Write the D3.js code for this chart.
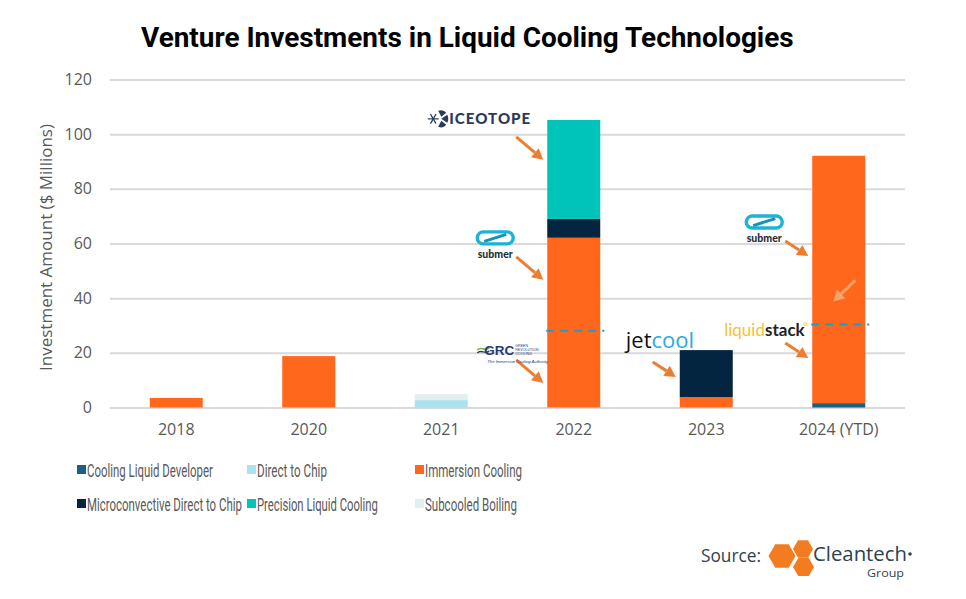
<!DOCTYPE html>
<html>
<head>
<meta charset="utf-8">
<script src="https://cdn.jsdelivr.net/npm/d3@7"></script>
<style>
  html, body { margin: 0; padding: 0; background: #fff; }
  svg { display: block; }
</style>
</head>
<body>
<svg id="chart" width="966" height="599"></svg>
<script>
// ---------------- DATA ----------------
const categories = ["2018", "2020", "2021", "2022", "2023", "2024 (YTD)"];
const seriesNames = ["Cooling Liquid Developer", "Direct to Chip", "Immersion Cooling",
  "Microconvective Direct to Chip", "Precision Liquid Cooling", "Subcooled Boiling"];
const coolingLiquidDeveloper = [0, 0, 0, 0, 0, 1.6];
const directToChip          = [0, 0, 2.7, 0, 0, 0];
const immersionCooling      = [3.5, 18.8, 0, 62.1, 3.8, 90.5];
const microconvective       = [0, 0, 0, 6.9, 17.2, 0];
const precisionLiquid       = [0, 0, 0, 36.2, 0, 0];
const subcooledBoiling      = [0, 0, 2.2, 0, 0, 0];
const yTicks = [0, 20, 40, 60, 80, 100, 120];
const seriesColors = ["#1b5f86", "#a9e3f0", "#ff671d", "#04253f", "#00c4b9", "#e3eef1"];
// annotation markers (value where arrow points) per category
const arrowNotes = [
  {cat: "2022", value: 90.6, logo: "iceotope"},
  {cat: "2022", value: 46.7, logo: "submer"},
  {cat: "2022", value: 9.0,  logo: "grc"},
  {cat: "2023", value: 11.2, logo: "jetcool"},
  {cat: "2024 (YTD)", value: 55.4, logo: "submer"},
  {cat: "2024 (YTD)", value: 18.1, logo: "liquidstack"}
];
const dashedMarks = [{cat: "2022", value: 28.1}, {cat: "2024 (YTD)", value: 30.4}];

// ---------------- CHART ----------------
const svg = d3.select("#chart");
const W = 966, H = 599;
const margin = {left: 110, right: 61, top: 79.5, bottom: 191.5};
const x = d3.scaleBand().domain(categories).range([margin.left, W - margin.right])
  .paddingInner(0.6).paddingOuter(0.3);
const y = d3.scaleLinear().domain([0, 120]).range([H - margin.bottom, margin.top]);

const rows = categories.map((c, i) => ({
  cat: c,
  "Cooling Liquid Developer": coolingLiquidDeveloper[i],
  "Direct to Chip": directToChip[i],
  "Immersion Cooling": immersionCooling[i],
  "Microconvective Direct to Chip": microconvective[i],
  "Precision Liquid Cooling": precisionLiquid[i],
  "Subcooled Boiling": subcooledBoiling[i]
}));
const stack = d3.stack().keys(seriesNames)(rows);
const color = d3.scaleOrdinal().domain(seriesNames).range(seriesColors);

// helper: place text and squeeze horizontally to a target width
function fitText(sel, tx, ty, width) {
  const w = sel.node().getComputedTextLength();
  const k = width / w;
  sel.attr("x", 0).attr("y", 0).attr("transform", `translate(${tx},${ty}) scale(${k},1)`);
  return sel;
}

// gridlines
const yAxis = d3.axisLeft(y).tickValues(yTicks).tickSize(-(W - margin.left - margin.right)).tickPadding(18);
const gy = svg.append("g").attr("transform", `translate(${margin.left},0)`).call(yAxis);
gy.select(".domain").remove();
gy.selectAll(".tick line").attr("stroke", "#d9d9d9").attr("stroke-width", 2);
gy.selectAll(".tick text").attr("fill", "#595959").attr("font-size", 16)
  .attr("font-family", "'Open Sans', 'Liberation Sans', sans-serif");

// bars
svg.append("g").selectAll("g").data(stack).join("g")
  .attr("fill", d => color(d.key))
  .selectAll("rect").data(d => d).join("rect")
  .attr("x", d => x(d.data.cat))
  .attr("width", x.bandwidth())
  .attr("y", d => y(d[1]))
  .attr("height", d => Math.max(0, y(d[0]) - y(d[1])));

// x axis labels
const xAxis = d3.axisBottom(x).tickSize(0).tickPadding(16);
const gx = svg.append("g").attr("transform", `translate(0,${y(0)})`).call(xAxis);
gx.select(".domain").remove();
gx.selectAll(".tick text").attr("fill", "#595959").attr("font-size", 16)
  .attr("font-family", "'Open Sans', 'Liberation Sans', sans-serif");

// y axis title
svg.append("text")
  .attr("transform", `translate(52,${(y(0) + y(120)) / 2 + 4}) rotate(-90)`)
  .attr("text-anchor", "middle").attr("fill", "#595959").attr("font-size", 17)
  .attr("font-family", "'Open Sans', 'Liberation Sans', sans-serif")
  .text("Investment Amount ($ Millions)");

// title
const title = svg.append("text").attr("x", 141).attr("y", 47)
  .attr("font-family", "'Roboto', 'Liberation Sans', sans-serif").attr("font-weight", 700)
  .attr("font-size", 24).attr("fill", "#000")
  .text("Venture Investments in Liquid Cooling Technologies");
{
  const w = title.node().getComputedTextLength();
  title.attr("font-size", 24 * 653 / w);
}

// dashed marks
svg.append("g").selectAll("line").data(dashedMarks).join("line")
  .attr("x1", d => x(d.cat) - 1).attr("x2", d => x(d.cat) + x.bandwidth() + 4)
  .attr("y1", d => y(d.value)).attr("y2", d => y(d.value))
  .attr("stroke", "#1e9ad6").attr("stroke-width", 2).attr("stroke-dasharray", "8,6");

// arrows
const arrowColor = "#ed7d31";
function drawArrow(g, x1, y1, x2, y2, col) {
  const ang = Math.atan2(y2 - y1, x2 - x1);
  const hl = 11, hw = 6;
  const bx = x2 - hl * Math.cos(ang), by = y2 - hl * Math.sin(ang);
  g.append("line").attr("x1", x1).attr("y1", y1).attr("x2", bx).attr("y2", by)
    .attr("stroke", col).attr("stroke-width", 3);
  const px = -Math.sin(ang) * hw, py = Math.cos(ang) * hw;
  g.append("path").attr("d", `M${x2},${y2}L${bx + px},${by + py}L${bx - px},${by - py}Z`).attr("fill", col);
}
const annot = svg.append("g");
arrowNotes.forEach(n => {
  const tx = x(n.cat) - 4, ty = y(n.value);
  const dx = n.cat === "2022" ? 27 : 23, dy = n.cat === "2022" ? 23 : 15;
  drawArrow(annot, tx - dx, ty - dy, tx, ty, arrowColor);
  const g = annot.append("g").attr("transform", `translate(${tx - dx},${ty - dy})`);
  drawLogo(g, n.logo);
});
// faint arrow inside 2024 bar
drawArrow(annot, x("2024 (YTD)") + 43, y(46.5), x("2024 (YTD)") + 21, y(38.8), "#f6a26a");

function drawLogo(g, type) {
  if (type === "iceotope") {
    const ig = g.append("g").attr("transform", "translate(-88,-18)");
    const sf = ig.append("g").attr("stroke", "#2a3a5c").attr("stroke-width", 1.2);
    [0, 60, 120].forEach(a => {
      const r = 5.5, rad = a * Math.PI / 180;
      sf.append("line").attr("x1", 5 - r * Math.cos(rad)).attr("y1", -r * Math.sin(rad))
        .attr("x2", 5 + r * Math.cos(rad)).attr("y2", r * Math.sin(rad));
    });
    ig.append("path").attr("d", "M10,-8 Q15,-10 18,-6 L13,-2 Z").attr("fill", "#2a3a5c");
    ig.append("path").attr("d", "M10,8 Q15,10 18,6 L13,2 Z").attr("fill", "#2a3a5c");
    ig.append("path").attr("d", "M13,0 L19,-4 Q21,0 19,4 Z").attr("fill", "#2a3a5c");
    g.append("text").attr("x", -67).attr("y", -13).attr("font-family", "'Lato', 'Liberation Sans', sans-serif")
      .attr("font-weight", 900).attr("font-size", 15).attr("letter-spacing", 1).attr("fill", "#2a3a5c")
      .attr("textLength", 82).attr("lengthAdjust", "spacingAndGlyphs").text("ICEOTOPE");
  } else if (type === "submer") {
    const sg = g.append("g").attr("transform", "translate(-40,-25)");
    sg.append("rect").attr("x", 1).attr("y", 0).attr("width", 36).attr("height", 12).attr("rx", 6)
      .attr("fill", "none").attr("stroke", "#1cb4d6").attr("stroke-width", 3.4);
    sg.append("line").attr("x1", 8).attr("y1", 9.5).attr("x2", 30).attr("y2", 2.5)
      .attr("stroke", "#1493b8").attr("stroke-width", 3);
    sg.append("text").attr("x", 19).attr("y", 26).attr("text-anchor", "middle")
      .attr("font-family", "'Lato', 'Liberation Sans', sans-serif").attr("font-weight", 900)
      .attr("font-size", 10.5).attr("fill", "#2a2f3a").text("submer");
  } else if (type === "grc") {
    const gg = g.append("g").attr("transform", "translate(-39,-15)");
    gg.append("path").attr("d", "M0,5 C4,1 8,7 12,3").attr("fill", "none").attr("stroke", "#6cbf4a").attr("stroke-width", 1.6);
    gg.append("path").attr("d", "M0,8 C4,4 8,10 12,6").attr("fill", "none").attr("stroke", "#2a3a6c").attr("stroke-width", 1.4);
    gg.append("text").attr("x", 7).attr("y", 10).attr("font-family", "'Liberation Sans', sans-serif")
      .attr("font-weight", 700).attr("font-size", 13).attr("fill", "#2a3a6c")
      .attr("textLength", 30).attr("lengthAdjust", "spacingAndGlyphs").text("GRC");
    ["GREEN", "REVOLUTION", "COOLING"].forEach((t, i) => {
      gg.append("text").attr("x", 38).attr("y", 2.5 + i * 3.6).attr("font-family", "'Liberation Sans', sans-serif")
        .attr("font-size", 3.6).attr("fill", "#2a3a6c").text(t);
    });
    gg.append("text").attr("x", 10).attr("y", 18).attr("font-family", "'Liberation Sans', sans-serif")
      .attr("font-style", "italic").attr("font-size", 4.2).attr("fill", "#2a3a6c").text("The Immersion Cooling Authority");
  } else if (type === "jetcool") {
    const t = g.append("text").attr("x", -27).attr("y", -14)
      .attr("font-family", "'Open Sans', 'Liberation Sans', sans-serif").attr("font-size", 22);
    t.append("tspan").attr("fill", "#111").text("jet");
    t.append("tspan").attr("fill", "#29abe2").text("cool");
  } else if (type === "liquidstack") {
    const t = g.append("text").attr("x", -61).attr("y", -7)
      .attr("font-family", "'Lato', 'Liberation Sans', sans-serif").attr("font-size", 17);
    t.append("tspan").attr("fill", "#f9c22e").attr("font-weight", 400).text("liquid");
    t.append("tspan").attr("fill", "#222").attr("font-weight", 700).text("stack");
    g.append("circle").attr("cx", 20).attr("cy", -19).attr("r", 1.5).attr("fill", "none").attr("stroke", "#f9c22e").attr("stroke-width", 0.8);
  }
}

// legend
const legendPos = [[77, 470], [247, 470], [415, 470], [77, 504], [247, 504], [415, 504]];
const legendWidths = [126, 70, 97, 155, 121, 92];
const lg = svg.append("g");
seriesNames.forEach((s, i) => {
  const [lx, ly] = legendPos[i];
  lg.append("rect").attr("x", lx).attr("y", ly - 5).attr("width", 9).attr("height", 9).attr("fill", color(s));
  const t = lg.append("text")
    .attr("font-family", "'Roboto', 'Liberation Sans', sans-serif").attr("font-size", 18.5)
    .attr("fill", "#595959").text(s);
  fitText(t, lx + 10, ly + 6.5, legendWidths[i]);
});

// source
const src = svg.append("g");
fitText(src.append("text").attr("font-family", "'Open Sans', 'Liberation Sans', sans-serif")
  .attr("font-size", 19).attr("fill", "#2d4253").text("Source:"), 701, 562, 60);
function hex(cx, cy, r) {
  const pts = d3.range(6).map(k => {
    const a = Math.PI / 3 * k;
    return [cx + r * Math.cos(a), cy + r * Math.sin(a)];
  });
  return "M" + pts.map(p => p.join(",")).join("L") + "Z";
}
src.append("path").attr("d", hex(782, 556, 13.5)).attr("fill", "#f47c20");
src.append("path").attr("d", hex(803, 549, 10)).attr("fill", "#f47c20");
src.append("path").attr("d", hex(803.5, 567, 10.5)).attr("fill", "#f47c20");
fitText(src.append("text").attr("font-family", "'Open Sans', 'Liberation Sans', sans-serif")
  .attr("font-size", 20).attr("fill", "#2d4253").text("Cleantech"), 813, 561, 94);
src.append("circle").attr("cx", 910).attr("cy", 554).attr("r", 1.8).attr("fill", "#2d4253");
fitText(src.append("text").attr("font-family", "'Open Sans', 'Liberation Sans', sans-serif")
  .attr("font-size", 11.5).attr("fill", "#2d4253").text("Group"), 867, 577, 37);
</script>
</body>
</html>
